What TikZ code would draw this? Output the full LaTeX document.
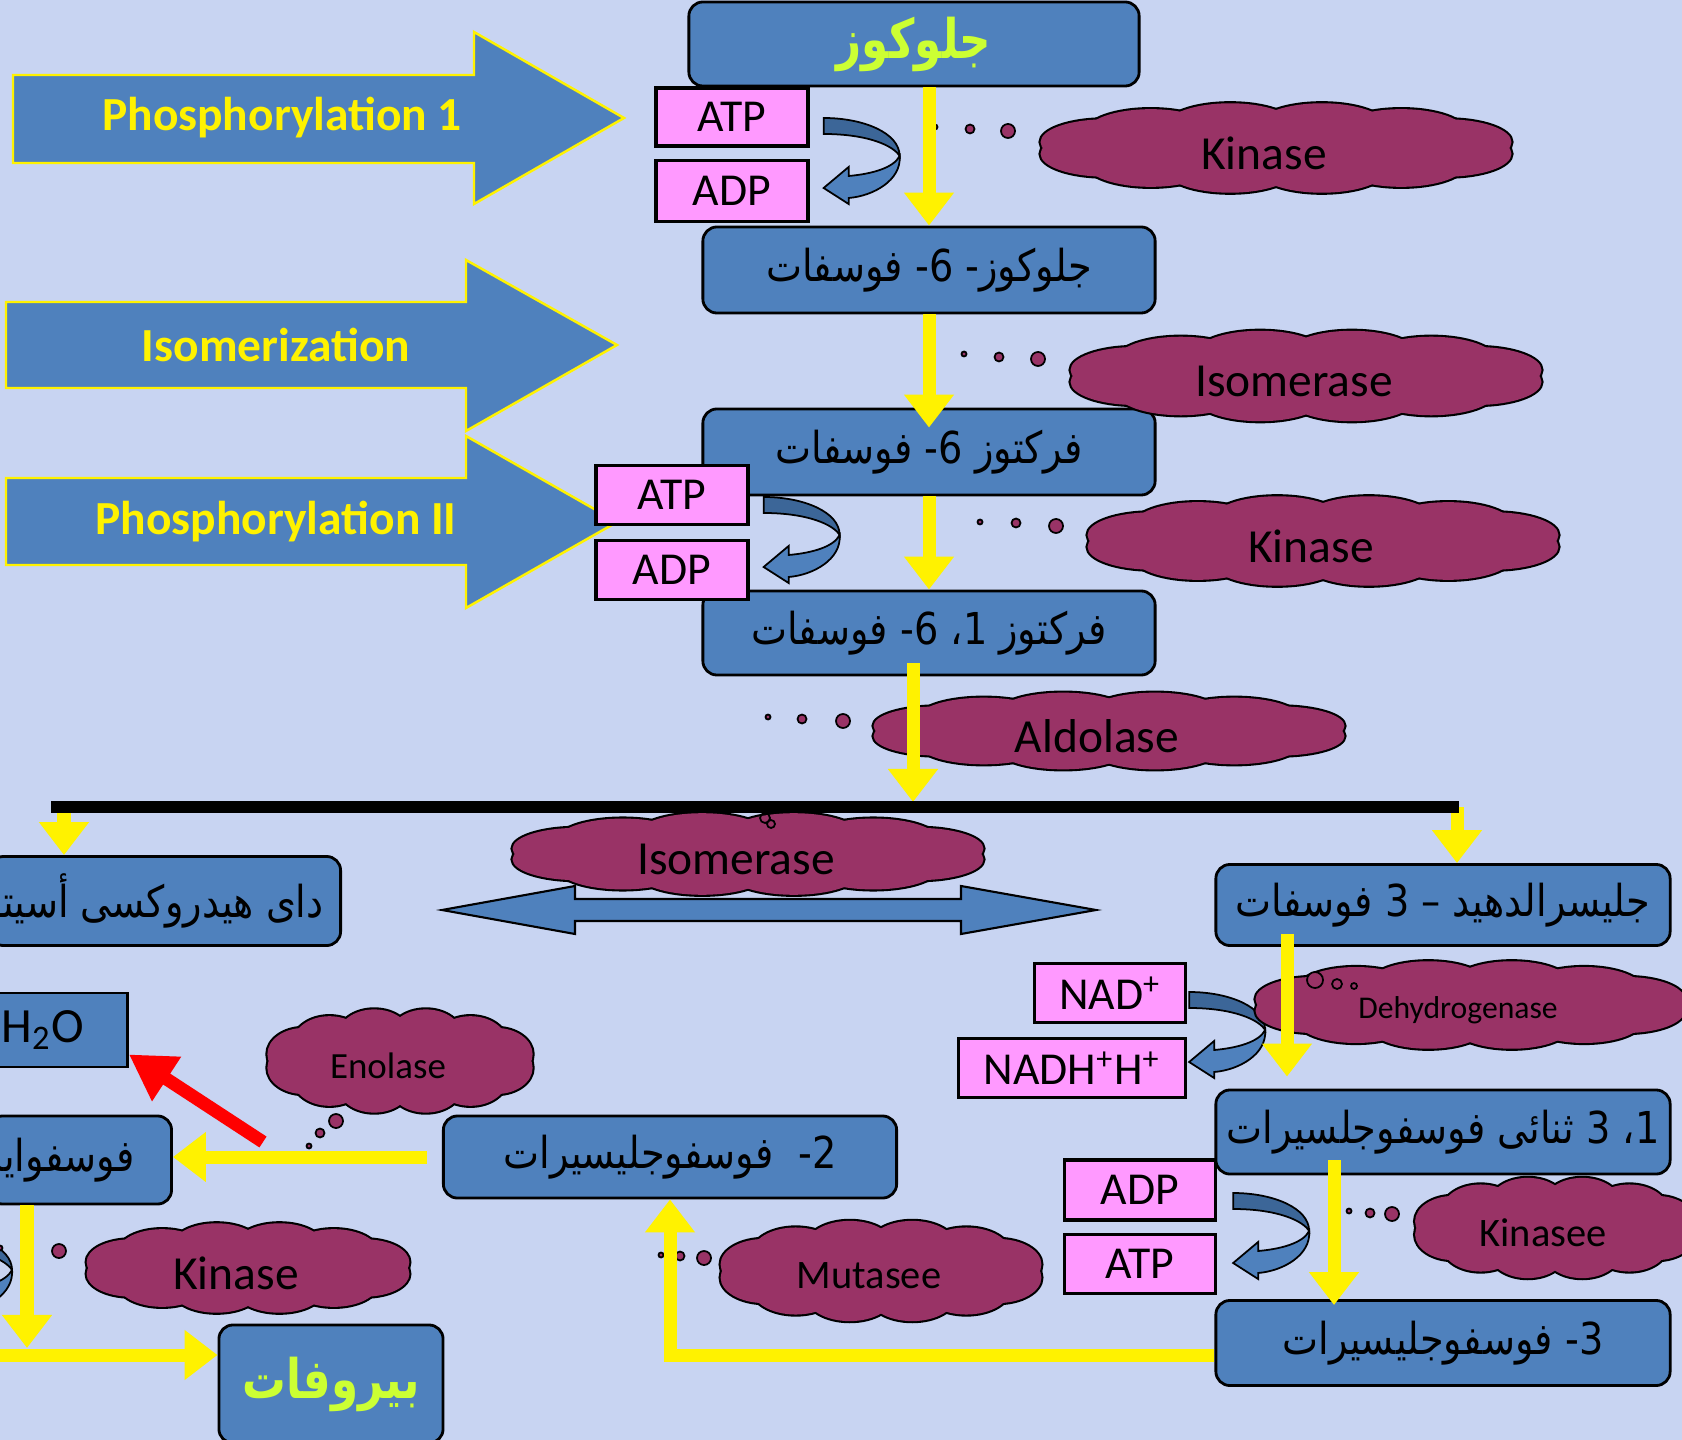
\documentclass[tikz,border=0pt]{standalone}
\usepackage{fontspec}
\setmainfont{Carlito}
\newfontfamily\arabicfont[Script=Arabic,FakeStretch=0.87]{DejaVu Sans}
\newfontfamily\arabictitle[Script=Arabic,FakeStretch=0.8]{DejaVu Sans}
\TeXXeTstate=1
\usetikzlibrary{arrows.meta,calc}

\definecolor{paper}{RGB}{200,212,242}
\definecolor{boxblue}{RGB}{79,129,189}
\definecolor{turnblue}{RGB}{60,102,152}
\definecolor{pinkbox}{RGB}{255,153,255}
\definecolor{wine}{RGB}{153,51,102}
\definecolor{lime}{RGB}{204,255,51}

% cloud of puffs: [font]{name}{x}{y}{width}{height}{text}
\newcommand\enzyme[7][\fontsize{13.5}{16}\selectfont]{%
  \foreach \ang in {15,45,...,345}
    \path[fill=wine, draw=black, line width=1.2pt] ($(#3,#4)+({(#5/2-#5/7.5)*cos(\ang)},{(#6/2-#6/4)*sin(\ang)})$) ellipse [x radius=#5/7.5, y radius=#6/4];
  \foreach \ang in {15,45,...,345}
    \fill[wine] ($(#3,#4)+({(#5/2-#5/7.5)*cos(\ang)},{(#6/2-#6/4)*sin(\ang)})$) ellipse [x radius=#5/7.5, y radius=#6/4];
  \fill[wine] (#3,#4) ellipse [x radius=#5/2-#5/7.5, y radius=#6/2-#6/8];
  \node[font=#1, xshift=-0.12cm, yshift=-0.05cm] (#2) at (#3,#4) {#7};
}

\tikzset{
  stage/.style={draw=black, line width=0.8pt, fill=boxblue, rounded corners=0.14cm, minimum width=4.52cm, minimum height=0.84cm, inner sep=0pt, font=\arabicfont\fontsize{12.5}{15}\selectfont},
  cofactor/.style={draw=black, line width=0.9pt, fill=pinkbox, minimum width=1.52cm, minimum height=0.59cm, inner sep=0pt, font=\fontsize{13}{15}\selectfont},
  flow/.style={draw=yellow, line width=0.13cm, -{Triangle[width=0.48cm,length=0.33cm]}},
  banner/.style={fill=boxblue, draw=yellow, line width=0.7pt},
  bannertext/.style={text=yellow, font=\bfseries\fontsize{13.5}{16}\selectfont},
  bubble/.style={fill=wine, draw=black, line width=0.5pt},
  turnarrow/.pic={
    \path[fill=boxblue, draw=black, line width=0.5pt] (76,38) .. controls (78,62) and (50,78) .. (25,80) -- (25,86) -- (0,70) -- (25,49) -- (25,58) .. controls (48,56) and (70,50) .. (76,38) -- cycle;
    \path[fill=turnblue, draw=black, line width=0.5pt] (0,0) .. controls (40,0) and (76,15) .. (76,38) .. controls (70,28) and (45,16) .. (0,16) -- cycle;
  }
}

\begin{document}
\begin{tikzpicture}[x=0.01cm, y=-0.01cm]
\useasboundingbox (0,0) rectangle (1682,1440);
\fill[paper] (0,0) rectangle (1682,1440);

% stage banners
\path[banner] (13,75) -- (474,75) -- (474,32) -- (624,118) -- (474,204) -- (474,163) -- (13,163) -- cycle;
\path[banner] (6,302) -- (466,302) -- (466,260) -- (617,345) -- (466,431) -- (466,388) -- (6,388) -- cycle;
\path[banner] (6,478) -- (466,478) -- (466,436) -- (617,522) -- (466,608) -- (466,565) -- (6,565) -- cycle;
\node[bannertext] (phos1) at (282,118) {Phosphorylation 1};
\node[bannertext] (isom) at (276,345) {Isomerization};
\node[bannertext] (phos2) at (276,522) {Phosphorylation II};

% metabolites
\node[stage, minimum width=4.50cm, text=lime, font=\arabictitle\bfseries\fontsize{15.5}{19}\selectfont] (glu) at (914,44) {\beginR جلوكوز\endR};
\node[stage, minimum height=0.86cm] (g6p) at (929,270) {\beginR جلوكوز- 6- فوسفات\endR};
\node[stage, minimum height=0.86cm] (f6p) at (929,452) {\beginR فركتوز 6- فوسفات\endR};
\node[stage] (f16) at (929,633) {\beginR فركتوز 1، 6- فوسفات\endR};
\node[stage, minimum width=3.51cm, minimum height=0.89cm] (dhap) at (165,901) {};
\node[anchor=east, font=\arabicfont\fontsize{12.5}{15}\selectfont] (dhaptext) at ($(dhap.east)+(-6,0)$) {\beginR داى هيدروكسى أسيتون فوسفات\endR};
\node[stage, minimum width=4.54cm, minimum height=0.81cm] (gap) at (1443,905) {\beginR جليسرالدهيد – 3 فوسفات\endR};
\node[stage, minimum width=4.54cm] (bpg) at (1443,1132) {\beginR 1، 3 ثنائى فوسفوجلسيرات\endR};
\node[stage, minimum width=4.54cm, minimum height=0.85cm] (pg3) at (1443,1343) {\beginR 3- فوسفوجليسيرات\endR};
\node[stage, minimum width=4.53cm, minimum height=0.82cm] (pg2) at (670,1157) {\beginR 2-~ فوسفوجليسيرات\endR};
\node[stage, minimum width=1.83cm, minimum height=0.88cm] (pep) at (80,1160) {};
\node[anchor=east, font=\arabicfont\fontsize{12.5}{15}\selectfont] (peptext) at ($(pep.east)+(-26,0)$) {\beginR فوسفواينول بيروفات\endR};
\node[stage, rounded corners=0pt, minimum width=1.33cm, minimum height=0.74cm, text width=1.19cm, align=left, font=\fontsize{14}{16}\selectfont] (h2o) at (61,1030) {H\textsubscript{2}O};
\node[stage, minimum width=2.24cm, minimum height=1.18cm, text=lime, font=\arabictitle\bfseries\fontsize{15.5}{19}\selectfont] (pyr) at (331,1384) {\beginR بيروفات\endR};

% cofactors
\node[cofactor, minimum height=0.58cm] (atp1) at (732,117) {ATP};
\node[cofactor, minimum height=0.61cm] (adp1) at (732,191) {ADP};
\node[cofactor] (atp2) at (672,495) {ATP};
\node[cofactor] (adp2) at (672,570) {ADP};
\node[cofactor, minimum width=1.51cm] (nad) at (1110,993) {NAD\textsuperscript{+}};
\node[cofactor, minimum width=2.27cm] (nadh) at (1072,1068) {NADH\textsuperscript{+}H\textsuperscript{+}};
\node[cofactor, minimum width=1.51cm, minimum height=0.60cm] (adp3) at (1140,1190) {ADP};
\node[cofactor, minimum width=1.51cm] (atp3) at (1140,1264) {ATP};

\pic at ($(atp1.east)+(14,1)$) {turnarrow};
\pic at ($(atp2.east)+(14,2)$) {turnarrow};
\pic at ($(nad.east)+(2,-1)$) {turnarrow};
\pic at ($(adp3.east)+(16,3)$) {turnarrow};
\pic at (-64,1232) {turnarrow};

% reversible step
\path[fill=boxblue, draw=black, line width=0.6pt] (442,910) -- (575,886) -- (575,899) -- (961,899) -- (961,886) -- (1096,910) -- (961,934) -- (961,921) -- (575,921) -- (575,934) -- cycle;

% enzymes
\enzyme{kin1}{1276}{148}{483}{91}{Kinase}
\enzyme{iso1}{1306}{376}{483}{92}{Isomerase}
\enzyme{kin2}{1323}{541}{483}{91}{Kinase}
\enzyme{ald}{1109}{731}{483}{78}{Aldolase}
\enzyme{iso2}{748}{854}{483}{83}{Isomerase}
\enzyme[\fontsize{9}{11}\selectfont]{dehyd}{1470}{1005}{440}{89}{Dehydrogenase}
\enzyme[\fontsize{11.5}{14}\selectfont]{kin3}{1555}{1228}{287}{102}{Kinasee}
\enzyme[\fontsize{11.5}{14}\selectfont]{mut}{881}{1271}{329}{102}{Mutasee}
\enzyme[\fontsize{10.5}{13}\selectfont]{eno}{400}{1061}{272}{105}{Enolase}
\enzyme{kin4}{248}{1268}{331}{91}{Kinase}

% bubbles leading to enzymes
\foreach \x/\y/\r in {935/127/2.5, 970/129/4.5, 1008/131/7,
                      964/354/2.5, 999/357/4.5, 1038/359/7,
                      980/522/2.5, 1016/523/4.5, 1056/526/7,
                      768/717/2.5, 802/719/4.5, 843/721/7,
                      1349/1211/2.5, 1370/1213/4.5, 1392/1214/7,
                      661/1255/2.5, 680/1256/4.5, 704/1258/7,
                      309/1146/2.5, 320/1133/4.5, 336/1121/7,
                      0/1248/2.5, 26/1249/5, 59/1251/7}
  \draw[bubble] (\x,\y) circle[radius=\r];
\foreach \x/\y/\r in {1315/980/8, 1337/984/5, 1354/986/3}
  \draw[bubble] (\x,\y) circle[radius=\r];
\draw[line width=0.5pt] (765,818) circle[radius=5] (771,824) circle[radius=4];

% pathway flow
\coordinate (split) at (913,802);
\coordinate (splitL) at (51,807);
\coordinate (splitR) at (1459,807);
\coordinate (dropL) at (64,807);
\coordinate (dropR) at (1457,807);
\coordinate (corner) at (27,1348);
\coordinate (edge) at (-10,1355);
\draw[flow] (g6p.north |- glu.south) -- (g6p.north);
\draw[flow] (f6p.north |- g6p.south) -- ($(f6p.north)+(0,20)$);
\draw[flow] (f16.north |- f6p.south) -- (f16.north);
\draw[flow] ($(f16.south -| split)+(0,-13)$) -- (split);
\draw[flow] (dropL) -- (dropL |- dhap.north);
\draw[flow] (dropR) -- (dropR |- gap.north);
\draw[line width=0.11cm] (splitL) -- (splitR);
\draw[flow] ($(gap.south)+(-156,-13)$) -- ($(bpg.north)+(-156,-12)$);
\draw[flow] ($(bpg.south)+(-109,-15)$) -- ($(pg3.north)+(-109,6)$);
\draw[flow] ($(pg3.west)+(0,12)$) -| (pg2.south);
\draw[flow] ($(pg2.west)+(-15,0)$) -- (pg2.west -| pep.east);
\draw[flow] (pep.south -| corner) -- (corner);
\draw[flow] (edge) -- (edge -| pyr.west);
\coordinate (redstart) at (263,1142);
\draw[draw=red, line width=0.13cm, -{Triangle[width=0.5cm,length=0.45cm]}] (redstart) -- ($(h2o.south east)+(0,-14)$);
\end{tikzpicture}
\end{document}
